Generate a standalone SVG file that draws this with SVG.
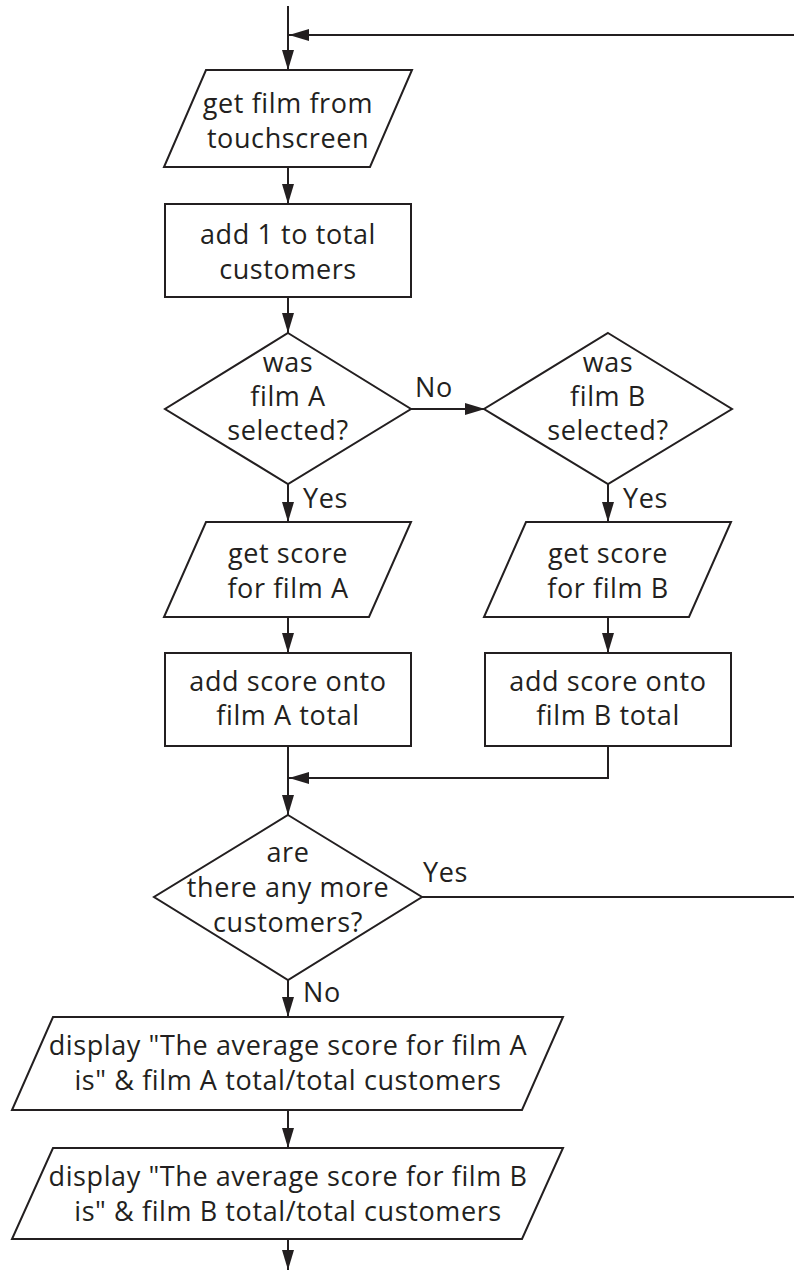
<svg xmlns="http://www.w3.org/2000/svg" width="794" height="1270" viewBox="0 0 794 1270">
<style>
.s{fill:#fff;stroke:#231f20;stroke-width:2}
.c{fill:none;stroke:#231f20;stroke-width:2}
text{font-family:"Open Sans","Noto Sans",sans-serif;font-size:27px;fill:#231f20;letter-spacing:0.6px}
.m{text-anchor:middle}
</style>
<defs>
<marker id="ah" viewBox="0 0 20 12" refX="20" refY="6" markerWidth="20" markerHeight="12" markerUnits="userSpaceOnUse" orient="auto"><path d="M0,0 L20,6 L0,12 Z" fill="#231f20"/></marker>
</defs>
<g id="connectors">
<path class="c" d="M288,6 V70" marker-end="url(#ah)"/>
<path class="c" d="M794,35 H289" marker-end="url(#ah)"/>
<path class="c" d="M288,167 V204" marker-end="url(#ah)"/>
<path class="c" d="M288,297 V333" marker-end="url(#ah)"/>
<path class="c" d="M411,409 H485" marker-end="url(#ah)"/>
<path class="c" d="M288,484 V522" marker-end="url(#ah)"/>
<path class="c" d="M608,484 V522" marker-end="url(#ah)"/>
<path class="c" d="M288,617 V653" marker-end="url(#ah)"/>
<path class="c" d="M608,617 V653" marker-end="url(#ah)"/>
<path class="c" d="M288,746 V815" marker-end="url(#ah)"/>
<path class="c" d="M608,746 V778 H289" marker-end="url(#ah)"/>
<path class="c" d="M422,897 H794"/>
<path class="c" d="M288,980 V1017" marker-end="url(#ah)"/>
<path class="c" d="M288,1110 V1148" marker-end="url(#ah)"/>
<path class="c" d="M288,1239 V1270" marker-end="url(#ah)"/>
<text x="415" y="397">No</text>
<text x="303" y="508">Yes</text>
<text x="623" y="508">Yes</text>
<text x="423" y="882">Yes</text>
<text x="303" y="1002">No</text>
</g>
<g id="get-film">
<polygon class="s" points="206,70 412,70 370,167 164,167"/>
<text class="m" x="288" y="113">get film from</text>
<text class="m" x="288" y="148">touchscreen</text>
</g>
<g id="add-customer">
<rect class="s" x="165" y="204" width="246" height="93"/>
<text class="m" x="288" y="244">add 1 to total</text>
<text class="m" x="288" y="279">customers</text>
</g>
<g id="film-a-selected">
<polygon class="s" points="288,333 411,409 288,484 165,409"/>
<text class="m" x="288" y="372">was</text>
<text class="m" x="288" y="406">film A</text>
<text class="m" x="288" y="440">selected?</text>
</g>
<g id="film-b-selected">
<polygon class="s" points="608,333 732,409 608,484 484,409"/>
<text class="m" x="608" y="372">was</text>
<text class="m" x="608" y="406">film B</text>
<text class="m" x="608" y="440">selected?</text>
</g>
<g id="get-score-a">
<polygon class="s" points="206,522 411,522 369,617 164,617"/>
<text class="m" x="288" y="563">get score</text>
<text class="m" x="288" y="598">for film A</text>
</g>
<g id="get-score-b">
<polygon class="s" points="526,522 731,522 689,617 484,617"/>
<text class="m" x="608" y="563">get score</text>
<text class="m" x="608" y="598">for film B</text>
</g>
<g id="add-score-a">
<rect class="s" x="165" y="653" width="246" height="93"/>
<text class="m" x="288" y="691">add score onto</text>
<text class="m" x="288" y="725">film A total</text>
</g>
<g id="add-score-b">
<rect class="s" x="485" y="653" width="246" height="93"/>
<text class="m" x="608" y="691">add score onto</text>
<text class="m" x="608" y="725">film B total</text>
</g>
<g id="more-customers">
<polygon class="s" points="288,815 422,897 288,980 154,897"/>
<text class="m" x="288" y="862">are</text>
<text class="m" x="288" y="897">there any more</text>
<text class="m" x="288" y="932">customers?</text>
</g>
<g id="display-a">
<polygon class="s" points="53,1017 563,1017 522,1110 12,1110"/>
<text class="m" x="288" y="1055">display "The average score for film A</text>
<text class="m" x="288" y="1090">is" &amp; film A total/total customers</text>
</g>
<g id="display-b">
<polygon class="s" points="53,1148 563,1148 522,1239 12,1239"/>
<text class="m" x="288" y="1186">display "The average score for film B</text>
<text class="m" x="288" y="1221">is" &amp; film B total/total customers</text>
</g>
</svg>
